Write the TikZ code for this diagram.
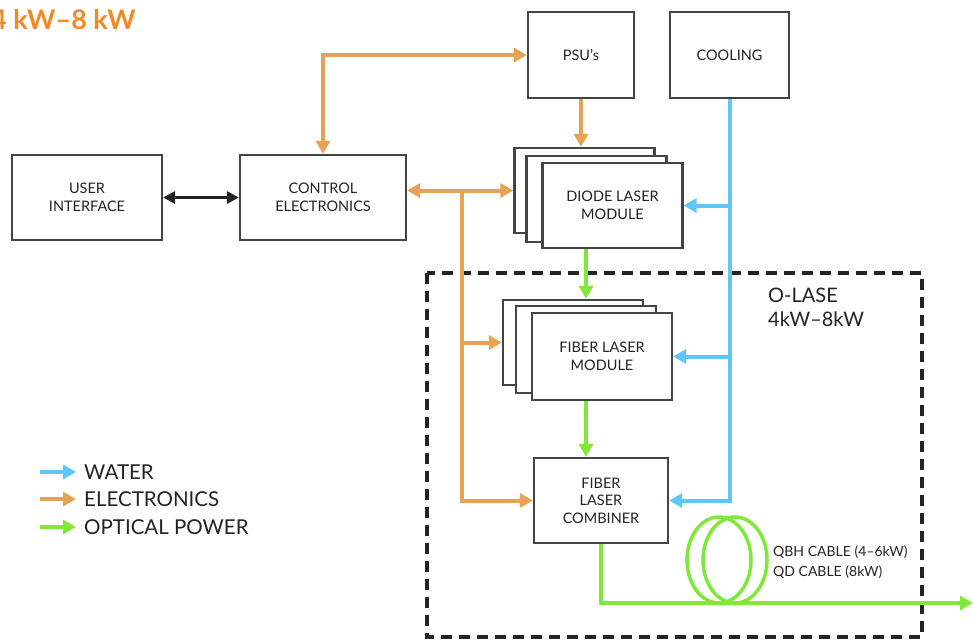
\documentclass[tikz,border=0pt]{standalone}
\usepackage{fontspec}
\setmainfont{Lato}
\newfontfamily\heavyfont{Lato Black}
\usepackage{xcolor}
\usepackage{tikz}
\usetikzlibrary{arrows.meta}
\definecolor{wblue}{RGB}{95,198,250}
\definecolor{eorange}{RGB}{232,162,84}
\definecolor{ogreen}{RGB}{128,232,56}
\definecolor{torange}{RGB}{242,138,36}
\definecolor{ink}{RGB}{35,35,35}

\begin{document}
\begin{tikzpicture}[x=1pt,y=-1pt,
  box/.style={draw=ink!85,line width=2.2pt,fill=white,align=center,text=ink,font=\fontsize{14.5}{17.5}\selectfont,inner sep=0pt},
  tip/.style={-{Triangle[length=13pt,width=14pt]}},
  water/.style={wblue,line width=4pt},
  elec/.style={eorange,line width=4pt},
  optic/.style={ogreen,line width=4pt},
  legend/.style={anchor=west,text=ink,font=\fontsize{20.5}{24}\selectfont,inner sep=4pt}]
\useasboundingbox (0,0) rectangle (973,641);
% O-LASE frame
\draw[line width=3.5pt,dash pattern=on 11pt off 7pt,ink] (427,273) rectangle (922,637);
\node[anchor=north west,align=left,text=ink,font=\fontsize{20}{24}\selectfont,inner sep=0pt] (olase) at (768,288) {O-LASE\\4kW--8kW};
\node[anchor=base west,text=torange,font=\fontsize{27}{30}\selectfont\bfseries,inner sep=0pt] (title) at (-9,29) {4 kW--8 kW};
% boxes
\node[box,minimum width=150pt,minimum height=85pt] (ui) at (87,197.5) {USER\\INTERFACE};
\node[box,minimum width=166pt,minimum height=85pt] (ce) at (323,197.5) {CONTROL\\ELECTRONICS};
\node[box,minimum width=106pt,minimum height=86pt] (psu) at (581,55) {PSU's};
\node[box,minimum width=119pt,minimum height=86pt] (cool) at (729.5,55) {COOLING};
\node[box,minimum width=140pt,minimum height=85pt] (dlm3) at (584.5,190.5) {};
\node[box,minimum width=140pt,minimum height=86pt] (dlm2) at (596.5,199) {};
\node[box,minimum width=140pt,minimum height=85pt] (dlm) at (612.5,205.5) {DIODE LASER\\MODULE};
\node[box,minimum width=140pt,minimum height=85pt] (flm3) at (573,342.5) {};
\node[box,minimum width=140pt,minimum height=87pt] (flm2) at (586,349.5) {};
\node[box,minimum width=140pt,minimum height=87pt] (flm) at (602,356.5) {FIBER LASER\\MODULE};
\node[box,minimum width=134pt,minimum height=85pt] (flc) at (601,500.5) {FIBER\\LASER\\COMBINER};
% electronics
\draw[ink,line width=3.5pt,{Triangle[length=12pt,width=12pt]}-{Triangle[length=12pt,width=12pt]}] (ui.east) -- (ce.west);
\draw[elec,{Triangle[length=13pt,width=14pt]}-{Triangle[length=13pt,width=14pt]}] (ce.north) |- (psu.west);
\draw[elec,tip] (psu.south) -- (psu.south |- dlm3.north);
\draw[elec,{Triangle[length=13pt,width=14pt]}-{Triangle[length=13pt,width=14pt]}] (ce.east |- dlm3.west) -- (dlm3.west);
\coordinate (br) at (462,190.5);
\draw[elec,tip] (br) |- (flm3.west);
\draw[elec,tip] (br) |- (flc.west);
% water
\draw[water,tip] (cool.south) |- (flc.east);
\draw[water,tip] (cool.south |- dlm.east) -- (dlm.east);
\draw[water,tip] (cool.south |- flm.east) -- (flm.east);
% optical power
\draw[optic,tip] (dlm.south -| flm2) -- (flm3.north -| flm2);
\draw[optic,tip] (flm.south -| flm2) -- (flc.north -| flm2);
\coordinate (out) at (973,603);
\draw[optic,tip] (flc.south) |- (out);
\draw[ogreen,line width=3.5pt] (735,560) ellipse (32pt and 43pt);
\draw[ogreen,line width=3.5pt] (719,560) ellipse (32pt and 43pt);
\node[anchor=north west,align=left,text=ink,font=\fontsize{14}{20}\selectfont,inner sep=0pt] (cable) at (773,545) {QBH CABLE (4--6kW)\\QD CABLE (8kW)};
% legend
\node[legend] (lw) at (80,472) {WATER};
\node[legend] (le) at (80,499) {ELECTRONICS};
\node[legend] (lo) at (80,527) {OPTICAL POWER};
\draw[water,tip] ([xshift=-40pt]lw.west) -- ([xshift=-4pt]lw.west);
\draw[elec,tip] ([xshift=-40pt]le.west) -- ([xshift=-4pt]le.west);
\draw[optic,tip] ([xshift=-40pt]lo.west) -- ([xshift=-4pt]lo.west);
\end{tikzpicture}
\end{document}
